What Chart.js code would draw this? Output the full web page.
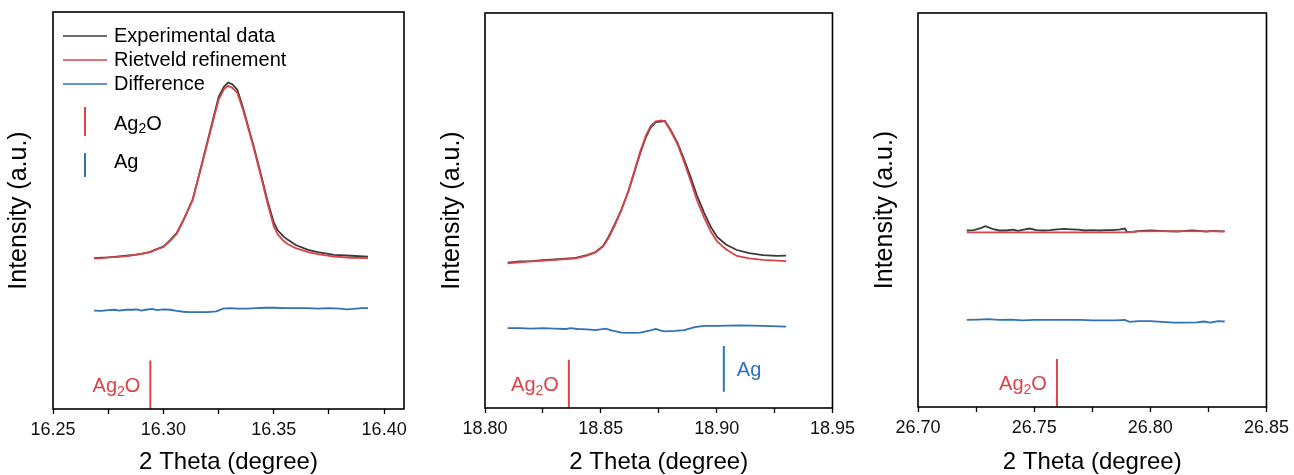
<!DOCTYPE html>
<html>
<head>
<meta charset="utf-8">
<script src="https://cdn.jsdelivr.net/npm/chart.js@4.4.0/dist/chart.umd.min.js"></script>
<style>
  html, body { margin: 0; padding: 0; background: #fff; }
  #wrap { position: relative; width: 1294px; height: 475px; }
  .panel { position: absolute; top: 0; height: 475px; }
</style>
</head>
<body>
<div id="wrap">
  <div class="panel" style="left:0;width:430px"><canvas id="c1" width="430" height="475"></canvas></div>
  <div class="panel" style="left:430px;width:430px"><canvas id="c2" width="430" height="475"></canvas></div>
  <div class="panel" style="left:860px;width:434px"><canvas id="c3" width="434" height="475"></canvas></div>
</div>
<script>
// ---- data ----
var seriesNames = ['Experimental data', 'Rietveld refinement', 'Difference'];
var phaseNames = ['Ag2O', 'Ag'];

var ticks1 = [16.25, 16.275, 16.30, 16.325, 16.35, 16.375, 16.40];
var ticks2 = [18.80, 18.825, 18.85, 18.875, 18.90, 18.925, 18.95];
var ticks3 = [26.70, 26.725, 26.75, 26.775, 26.80, 26.825, 26.85];

// panel 1
var theta1 = [16.2686, 16.2720, 16.2750, 16.2790, 16.2833, 16.2870, 16.2900, 16.2941, 16.2970, 16.3000,
              16.3032, 16.3060, 16.3090, 16.3132, 16.3170, 16.3206, 16.3230, 16.3251, 16.3275, 16.3293,
              16.3312, 16.3335, 16.3360, 16.3385, 16.3409, 16.3440, 16.3471, 16.3500, 16.3518, 16.3545,
              16.3564, 16.3600, 16.3655, 16.3700, 16.3773, 16.3850, 16.3927];
var exp1 = [38.0, 38.1, 38.2, 38.4, 38.6, 38.8, 39.1, 39.6, 40.3, 40.9,
            42.6, 44.3, 47.5, 52.6, 60.8, 68.8, 74.1, 78.7, 81.2, 82.2,
            81.8, 80.4, 76.0, 71.0, 66.2, 59.5, 52.6, 47.0, 45.0, 43.4,
            42.6, 41.3, 40.1, 39.5, 38.8, 38.6, 38.4];
var fit1 = [37.9, 38.0, 38.2, 38.3, 38.5, 38.8, 39.1, 39.5, 40.2, 40.8,
            42.4, 44.1, 47.4, 52.6, 60.6, 68.4, 73.6, 78.0, 80.6, 81.4,
            80.9, 79.6, 75.5, 70.6, 65.8, 59.0, 52.0, 46.0, 44.0, 42.3,
            41.5, 40.5, 39.5, 39.0, 38.4, 38.1, 38.0];
var diffTheta1 = [16.2686, 16.2720, 16.2750, 16.2780, 16.2800, 16.2830, 16.2860, 16.2880, 16.2900, 16.2920,
                  16.2950, 16.2970, 16.3000, 16.3030, 16.3060, 16.3090, 16.3120, 16.3160, 16.3200, 16.3240,
                  16.3270, 16.3300, 16.3340, 16.3380, 16.3420, 16.3460, 16.3500, 16.3550, 16.3600, 16.3650,
                  16.3700, 16.3750, 16.3800, 16.3830, 16.3860, 16.3900, 16.3927];
var diff1 = [24.8, 24.7, 24.9, 25.0, 24.8, 25.0, 25.0, 25.1, 24.8, 25.0,
             25.2, 24.9, 25.1, 25.0, 24.7, 24.5, 24.4, 24.4, 24.4, 24.6,
             25.3, 25.4, 25.3, 25.3, 25.4, 25.5, 25.5, 25.4, 25.4, 25.4,
             25.3, 25.4, 25.3, 25.1, 25.2, 25.4, 25.4];

// panel 2
var theta2 = [18.8098, 18.8150, 18.8200, 18.8250, 18.8300, 18.8350, 18.8392, 18.8440, 18.8477, 18.8510,
              18.8533, 18.8560, 18.8588, 18.8620, 18.8648, 18.8670, 18.8695, 18.8715, 18.8737, 18.8760,
              18.8776, 18.8800, 18.8831, 18.8860, 18.8887, 18.8915, 18.8946, 18.8975, 18.9002, 18.9040,
              18.9087, 18.9140, 18.9200, 18.9260, 18.9300];
var exp2 = [36.8, 37.1, 37.2, 37.4, 37.6, 37.8, 38.0, 38.7, 39.5, 41.0,
            43.3, 46.5, 50.1, 55.0, 60.3, 64.5, 68.6, 71.0, 72.4, 72.5,
            72.7, 70.5, 67.1, 62.8, 58.5, 53.8, 49.4, 45.8, 43.3, 41.4,
            40.0, 39.2, 38.7, 38.5, 38.6];
var fit2 = [36.6, 36.9, 37.1, 37.3, 37.5, 37.7, 37.9, 38.6, 39.4, 40.9,
            43.0, 46.2, 50.0, 55.2, 60.6, 64.9, 69.0, 71.4, 72.6, 72.8,
            72.6, 70.3, 66.8, 62.2, 57.6, 52.6, 48.2, 44.6, 42.2, 40.2,
            38.5, 37.9, 37.5, 37.3, 37.2];
var diffTheta2 = [18.8098, 18.8150, 18.8200, 18.8250, 18.8300, 18.8350, 18.8370, 18.8400, 18.8440, 18.8477,
                  18.8520, 18.8550, 18.8590, 18.8630, 18.8670, 18.8710, 18.8737, 18.8760, 18.8776, 18.8820,
                  18.8860, 18.8905, 18.8946, 18.9000, 18.9100, 18.9200, 18.9300];
var diff2 = [20.2, 20.2, 20.1, 20.2, 20.1, 20.0, 20.2, 20.0, 19.9, 19.7,
             20.1, 19.6, 19.1, 19.0, 19.1, 19.6, 20.0, 19.6, 19.4, 19.5,
             19.7, 20.5, 20.8, 20.8, 20.9, 20.8, 20.6];

// panel 3
var theta3 = [26.721, 26.724, 26.727, 26.729, 26.732, 26.735, 26.738, 26.741, 26.743, 26.746,
              26.748, 26.751, 26.754, 26.757, 26.760, 26.763, 26.766, 26.769, 26.772, 26.775,
              26.778, 26.781, 26.784, 26.787, 26.789, 26.790, 26.793, 26.796, 26.800, 26.804,
              26.808, 26.812, 26.815, 26.818, 26.821, 26.824, 26.827, 26.830, 26.832];
var exp3 = [44.8, 44.9, 45.4, 45.9, 45.2, 44.8, 44.8, 45.0, 44.7, 45.1,
            45.3, 44.9, 44.8, 44.9, 45.1, 45.2, 45.1, 45.0, 44.8, 44.9,
            44.8, 44.9, 44.9, 45.1, 45.3, 44.4, 44.5, 44.7, 44.8, 44.7,
            44.6, 44.5, 44.7, 44.8, 44.7, 44.5, 44.7, 44.6, 44.6];
var fitTheta3 = [26.721, 26.750, 26.790, 26.795, 26.810, 26.832];
var fit3 = [44.3, 44.3, 44.35, 44.55, 44.65, 44.6];
var diffTheta3 = [26.721, 26.726, 26.730, 26.735, 26.740, 26.745, 26.750, 26.755, 26.760, 26.765,
                  26.770, 26.775, 26.780, 26.785, 26.789, 26.791, 26.795, 26.800, 26.805, 26.810,
                  26.815, 26.820, 26.823, 26.826, 26.829, 26.832];
var diff3 = [22.1, 22.2, 22.3, 22.1, 22.2, 22.0, 22.1, 22.1, 22.1, 22.1,
             22.1, 22.0, 22.0, 22.0, 22.1, 21.6, 21.8, 21.8, 21.6, 21.4,
             21.4, 21.5, 21.7, 21.4, 21.8, 21.7];

// reflection positions
var ag2oPeaks = [16.2941, 18.8362, 26.7598];
var agPeaks = [18.9031];
var ag2oBar = [0, 12.2];
var agBar = [4.1, 15.7];

// ---- styling ----
var FONT = '"Liberation Sans", Arial, Helvetica, sans-serif';
var DARK = '#3a3a3a';
var RED = '#da4449';
var BLUE = '#2f72b8';

function curve(xs, ys) {
	return xs.map(function (x, i) { return { x: x, y: ys[i] }; });
}

// writes a formula such as Ag2O with the digits as subscripts
function drawFormula(c, text, x, y, align, size) {
	var runs = text.split(/(\d+)/).filter(Boolean);
	var big = size + 'px ' + FONT;
	var small = Math.round(size * 0.68) + 'px ' + FONT;
	var w = 0;
	runs.forEach(function (r) {
		c.font = /^\d+$/.test(r) ? small : big;
		w += c.measureText(r).width;
	});
	var cx = align === 'right' ? x - w : x;
	c.textAlign = 'left';
	runs.forEach(function (r) {
		var sub = /^\d+$/.test(r);
		c.font = sub ? small : big;
		c.fillText(r, cx, sub ? y + size * 0.28 : y);
		cx += c.measureText(r).width;
	});
}

var framePlugin = {
	id: 'frame',
	afterDatasetsDraw: function (chart) {
		var a = chart.chartArea, c = chart.ctx;
		c.save();
		c.strokeStyle = '#000';
		c.lineWidth = 1.6;
		c.strokeRect(a.left, a.top, a.right - a.left, a.bottom - a.top);
		c.restore();
	}
};

var tagPlugin = {
	id: 'tags',
	afterDatasetsDraw: function (chart) {
		var c = chart.ctx;
		chart.data.datasets.forEach(function (ds, i) {
			if (!ds.tag) return;
			var pts = chart.getDatasetMeta(i).data;
			var x = pts[0].x, y = (pts[0].y + pts[1].y) / 2 + 2;
			c.save();
			c.fillStyle = ds.borderColor;
			c.textBaseline = 'middle';
			if (ds.tagSide === 'left') drawFormula(c, ds.tag, x - 10, y, 'right', 20);
			else drawFormula(c, ds.tag, x + 13, y, 'left', 20);
			c.restore();
		});
	}
};

var legendPlugin = {
	id: 'legendBox',
	afterDatasetsDraw: function (chart) {
		var a = chart.chartArea, c = chart.ctx;
		var colors = [DARK, RED, BLUE];
		c.save();
		c.textBaseline = 'middle';
		c.lineWidth = 1.6;
		seriesNames.forEach(function (name, i) {
			var y = a.top + 24 + i * 24;
			c.strokeStyle = colors[i];
			c.beginPath();
			c.moveTo(a.left + 10, y);
			c.lineTo(a.left + 54, y);
			c.stroke();
			c.fillStyle = '#000';
			c.font = '20px ' + FONT;
			c.textAlign = 'left';
			c.fillText(name, a.left + 61, y);
		});
		var bars = [[a.top + 95, a.top + 124, RED, a.top + 112], [a.top + 141, a.top + 165, BLUE, a.top + 150]];
		phaseNames.forEach(function (name, i) {
			var b = bars[i];
			c.strokeStyle = b[2];
			c.lineWidth = 2;
			c.beginPath();
			c.moveTo(a.left + 32, b[0]);
			c.lineTo(a.left + 32, b[1]);
			c.stroke();
			c.fillStyle = '#000';
			drawFormula(c, name, a.left + 61, b[3], 'left', 20);
		});
		c.restore();
	}
};

function buildChart(id, cfg) {
	var canvas = document.getElementById(id);
	return new Chart(canvas.getContext('2d'), {
		type: 'line',
		data: { datasets: cfg.datasets },
		options: {
			responsive: false,
			animation: false,
			devicePixelRatio: 1,
			layout: { padding: { top: cfg.area.top, right: canvas.width - cfg.area.right, bottom: 0, left: 0 } },
			plugins: { legend: { display: false }, tooltip: { enabled: false } },
			elements: { point: { radius: 0 }, line: { borderWidth: 1.8, tension: 0 } },
			scales: {
				x: {
					type: 'linear',
					min: cfg.xMin,
					max: cfg.xMax,
					afterBuildTicks: function (s) {
						s.ticks = cfg.ticks.map(function (v) { return { value: v }; });
					},
					afterFit: function (s) { s.height = canvas.height - cfg.area.bottom; },
					ticks: {
						autoSkip: false,
						maxRotation: 0,
						padding: 5,
						color: '#111',
						font: { size: 18, family: FONT },
						callback: function (v, i) { return i % 2 === 0 ? Number(v).toFixed(2) : ''; }
					},
					grid: { display: true, drawOnChartArea: false, drawTicks: true, tickLength: 5, tickColor: '#000', tickWidth: 1.3 },
					border: { display: false },
					title: { display: true, text: '2 Theta (degree)', color: '#000', font: { size: 24, family: FONT, lineHeight: 1.05 }, padding: { top: 0, bottom: 0 } }
				},
				y: {
					min: 0,
					max: 100,
					afterFit: function (s) { s.width = cfg.area.left; },
					ticks: { display: false },
					grid: { display: false },
					border: { display: false },
					title: { display: true, text: 'Intensity (a.u.)', color: '#000', font: { size: 25, family: FONT }, padding: { top: cfg.yTitlePad, bottom: 0 } }
				}
			}
		},
		plugins: [framePlugin, tagPlugin].concat(cfg.legend ? [legendPlugin] : [])
	});
}

function phaseBar(pos, bar, color, tag, side) {
	return { data: curve([pos, pos], bar), borderColor: color, borderWidth: 2, order: 0, tag: tag, tagSide: side };
}

buildChart('c1', {
	xMin: 16.25, xMax: 16.409, ticks: ticks1,
	area: { left: 53, right: 404, top: 12, bottom: 409 },
	yTitlePad: 4, legend: true,
	datasets: [
		{ data: curve(theta1, exp1), borderColor: DARK, order: 3 },
		{ data: curve(theta1, fit1), borderColor: RED, order: 2 },
		{ data: curve(diffTheta1, diff1), borderColor: BLUE, order: 1 },
		phaseBar(ag2oPeaks[0], ag2oBar, RED, phaseNames[0], 'left')
	]
});

buildChart('c2', {
	xMin: 18.80, xMax: 18.95, ticks: ticks2,
	area: { left: 55, right: 407, top: 13, bottom: 408 },
	yTitlePad: 7,
	datasets: [
		{ data: curve(theta2, exp2), borderColor: DARK, order: 3 },
		{ data: curve(theta2, fit2), borderColor: RED, order: 2 },
		{ data: curve(diffTheta2, diff2), borderColor: BLUE, order: 1 },
		phaseBar(ag2oPeaks[1], ag2oBar, RED, phaseNames[0], 'left'),
		phaseBar(agPeaks[0], agBar, BLUE, phaseNames[1], 'right')
	]
});

buildChart('c3', {
	xMin: 26.70, xMax: 26.85, ticks: ticks3,
	area: { left: 58, right: 409, top: 13, bottom: 407 },
	yTitlePad: 10,
	datasets: [
		{ data: curve(theta3, exp3), borderColor: DARK, order: 3 },
		{ data: curve(fitTheta3, fit3), borderColor: RED, order: 2 },
		{ data: curve(diffTheta3, diff3), borderColor: BLUE, order: 1 },
		phaseBar(ag2oPeaks[2], ag2oBar, RED, phaseNames[0], 'left')
	]
});
</script>
</body>
</html>
